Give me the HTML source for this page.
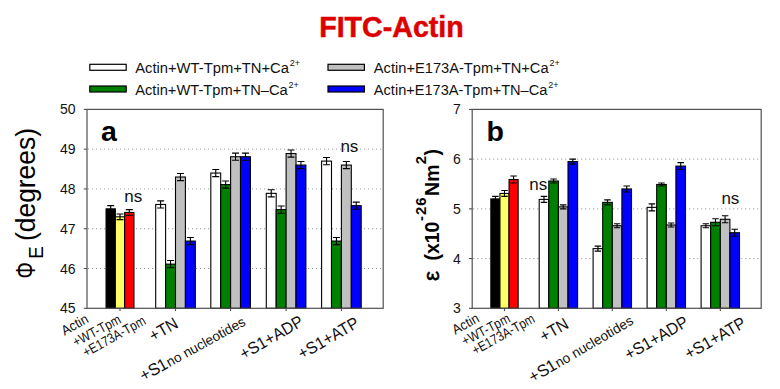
<!DOCTYPE html>
<html><head><meta charset="utf-8"><title>FITC-Actin</title>
<style>
html,body{margin:0;padding:0;background:#fff;}
body{width:780px;height:389px;overflow:hidden;font-family:"Liberation Sans", sans-serif;}
svg text{font-family:"Liberation Sans", sans-serif;}
</style></head><body>
<svg width="780" height="389" viewBox="0 0 780 389" style="display:block">
<rect width="780" height="389" fill="#ffffff"/>
<line x1="88" x2="383.2" y1="268.52" y2="268.52" stroke="#9a9a9a" stroke-width="1" stroke-dasharray="1.1 2.9"/>
<line x1="88" x2="383.2" y1="228.74" y2="228.74" stroke="#9a9a9a" stroke-width="1" stroke-dasharray="1.1 2.9"/>
<line x1="88" x2="383.2" y1="188.96" y2="188.96" stroke="#9a9a9a" stroke-width="1" stroke-dasharray="1.1 2.9"/>
<line x1="88" x2="383.2" y1="149.18" y2="149.18" stroke="#9a9a9a" stroke-width="1" stroke-dasharray="1.1 2.9"/>
<rect x="106.05" y="208.85" width="9.30" height="99.45" fill="#000000" stroke="#000" stroke-width="1.1"/>
<rect x="115.35" y="216.81" width="9.30" height="91.49" fill="#ffff66" stroke="#000" stroke-width="1.1"/>
<rect x="124.65" y="212.43" width="9.30" height="95.87" fill="#ff0000" stroke="#000" stroke-width="1.1"/>
<path d="M110.70 205.67V212.03M107.20 205.67h7.0M107.20 212.03h7.0" stroke="#000" stroke-width="1.1" fill="none"/>
<path d="M120.00 214.02V219.59M116.50 214.02h7.0M116.50 219.59h7.0" stroke="#000" stroke-width="1.1" fill="none"/>
<path d="M129.30 209.65V215.21M125.80 209.65h7.0M125.80 215.21h7.0" stroke="#000" stroke-width="1.1" fill="none"/>
<rect x="155.70" y="204.47" width="9.90" height="103.83" fill="#ffffff" stroke="#000" stroke-width="1.1"/>
<rect x="165.60" y="264.14" width="9.90" height="44.16" fill="#008000" stroke="#000" stroke-width="1.1"/>
<rect x="175.50" y="177.03" width="9.90" height="131.27" fill="#c0c0c0" stroke="#000" stroke-width="1.1"/>
<rect x="185.40" y="241.07" width="9.90" height="67.23" fill="#0000ff" stroke="#000" stroke-width="1.1"/>
<path d="M160.65 200.89V208.05M157.15 200.89h7.0M157.15 208.05h7.0" stroke="#000" stroke-width="1.1" fill="none"/>
<path d="M170.55 260.56V267.72M167.05 260.56h7.0M167.05 267.72h7.0" stroke="#000" stroke-width="1.1" fill="none"/>
<path d="M180.45 173.45V180.61M176.95 173.45h7.0M176.95 180.61h7.0" stroke="#000" stroke-width="1.1" fill="none"/>
<path d="M190.35 237.49V244.65M186.85 237.49h7.0M186.85 244.65h7.0" stroke="#000" stroke-width="1.1" fill="none"/>
<rect x="210.80" y="173.05" width="9.90" height="135.25" fill="#ffffff" stroke="#000" stroke-width="1.1"/>
<rect x="220.70" y="184.58" width="9.90" height="123.72" fill="#008000" stroke="#000" stroke-width="1.1"/>
<rect x="230.60" y="156.74" width="9.90" height="151.56" fill="#c0c0c0" stroke="#000" stroke-width="1.1"/>
<rect x="240.50" y="156.74" width="9.90" height="151.56" fill="#0000ff" stroke="#000" stroke-width="1.1"/>
<path d="M215.75 169.47V176.63M212.25 169.47h7.0M212.25 176.63h7.0" stroke="#000" stroke-width="1.1" fill="none"/>
<path d="M225.65 181.00V188.16M222.15 181.00h7.0M222.15 188.16h7.0" stroke="#000" stroke-width="1.1" fill="none"/>
<path d="M235.55 153.16V160.32M232.05 153.16h7.0M232.05 160.32h7.0" stroke="#000" stroke-width="1.1" fill="none"/>
<path d="M245.45 153.16V160.32M241.95 153.16h7.0M241.95 160.32h7.0" stroke="#000" stroke-width="1.1" fill="none"/>
<rect x="266.30" y="193.34" width="9.90" height="114.96" fill="#ffffff" stroke="#000" stroke-width="1.1"/>
<rect x="276.20" y="209.65" width="9.90" height="98.65" fill="#008000" stroke="#000" stroke-width="1.1"/>
<rect x="286.10" y="153.56" width="9.90" height="154.74" fill="#c0c0c0" stroke="#000" stroke-width="1.1"/>
<rect x="296.00" y="165.09" width="9.90" height="143.21" fill="#0000ff" stroke="#000" stroke-width="1.1"/>
<path d="M271.25 189.76V196.92M267.75 189.76h7.0M267.75 196.92h7.0" stroke="#000" stroke-width="1.1" fill="none"/>
<path d="M281.15 206.07V213.23M277.65 206.07h7.0M277.65 213.23h7.0" stroke="#000" stroke-width="1.1" fill="none"/>
<path d="M291.05 149.98V157.14M287.55 149.98h7.0M287.55 157.14h7.0" stroke="#000" stroke-width="1.1" fill="none"/>
<path d="M300.95 161.51V168.67M297.45 161.51h7.0M297.45 168.67h7.0" stroke="#000" stroke-width="1.1" fill="none"/>
<rect x="321.60" y="161.11" width="9.90" height="147.19" fill="#ffffff" stroke="#000" stroke-width="1.1"/>
<rect x="331.50" y="241.07" width="9.90" height="67.23" fill="#008000" stroke="#000" stroke-width="1.1"/>
<rect x="341.40" y="165.09" width="9.90" height="143.21" fill="#c0c0c0" stroke="#000" stroke-width="1.1"/>
<rect x="351.30" y="205.67" width="9.90" height="102.63" fill="#0000ff" stroke="#000" stroke-width="1.1"/>
<path d="M326.55 157.53V164.69M323.05 157.53h7.0M323.05 164.69h7.0" stroke="#000" stroke-width="1.1" fill="none"/>
<path d="M336.45 237.49V244.65M332.95 237.49h7.0M332.95 244.65h7.0" stroke="#000" stroke-width="1.1" fill="none"/>
<path d="M346.35 161.51V168.67M342.85 161.51h7.0M342.85 168.67h7.0" stroke="#000" stroke-width="1.1" fill="none"/>
<path d="M356.25 202.09V209.25M352.75 202.09h7.0M352.75 209.25h7.0" stroke="#000" stroke-width="1.1" fill="none"/>
<rect x="87" y="109.4" width="296.2" height="198.9" fill="none" stroke="#505050" stroke-width="1.2"/>
<line x1="83.8" x2="87" y1="308.30" y2="308.30" stroke="#505050" stroke-width="1.1"/>
<text x="75.5" y="313.30" font-size="14" text-anchor="end" fill="#111">45</text>
<line x1="83.8" x2="87" y1="268.52" y2="268.52" stroke="#505050" stroke-width="1.1"/>
<text x="75.5" y="273.52" font-size="14" text-anchor="end" fill="#111">46</text>
<line x1="83.8" x2="87" y1="228.74" y2="228.74" stroke="#505050" stroke-width="1.1"/>
<text x="75.5" y="233.74" font-size="14" text-anchor="end" fill="#111">47</text>
<line x1="83.8" x2="87" y1="188.96" y2="188.96" stroke="#505050" stroke-width="1.1"/>
<text x="75.5" y="193.96" font-size="14" text-anchor="end" fill="#111">48</text>
<line x1="83.8" x2="87" y1="149.18" y2="149.18" stroke="#505050" stroke-width="1.1"/>
<text x="75.5" y="154.18" font-size="14" text-anchor="end" fill="#111">49</text>
<line x1="83.8" x2="87" y1="109.40" y2="109.40" stroke="#505050" stroke-width="1.1"/>
<text x="75.5" y="114.40" font-size="14" text-anchor="end" fill="#111">50</text>
<line x1="120.00" x2="120.00" y1="308.3" y2="311.1" stroke="#505050" stroke-width="1.1"/>
<line x1="175.50" x2="175.50" y1="308.3" y2="311.1" stroke="#505050" stroke-width="1.1"/>
<line x1="230.60" x2="230.60" y1="308.3" y2="311.1" stroke="#505050" stroke-width="1.1"/>
<line x1="286.10" x2="286.10" y1="308.3" y2="311.1" stroke="#505050" stroke-width="1.1"/>
<line x1="341.40" x2="341.40" y1="308.3" y2="311.1" stroke="#505050" stroke-width="1.1"/>
<line x1="473.2" x2="761.2" y1="258.57" y2="258.57" stroke="#9a9a9a" stroke-width="1" stroke-dasharray="1.1 2.9"/>
<line x1="473.2" x2="761.2" y1="208.85" y2="208.85" stroke="#9a9a9a" stroke-width="1" stroke-dasharray="1.1 2.9"/>
<line x1="473.2" x2="761.2" y1="159.12" y2="159.12" stroke="#9a9a9a" stroke-width="1" stroke-dasharray="1.1 2.9"/>
<rect x="490.85" y="198.91" width="9.10" height="109.40" fill="#000000" stroke="#000" stroke-width="1.1"/>
<rect x="499.95" y="193.44" width="9.10" height="114.86" fill="#ffff66" stroke="#000" stroke-width="1.1"/>
<rect x="509.05" y="179.51" width="9.10" height="128.79" fill="#ff0000" stroke="#000" stroke-width="1.1"/>
<path d="M495.40 196.42V201.39M492.15 196.42h6.5M492.15 201.39h6.5" stroke="#000" stroke-width="1.1" fill="none"/>
<path d="M504.50 190.45V196.42M501.25 190.45h6.5M501.25 196.42h6.5" stroke="#000" stroke-width="1.1" fill="none"/>
<path d="M513.60 176.03V182.99M510.35 176.03h6.5M510.35 182.99h6.5" stroke="#000" stroke-width="1.1" fill="none"/>
<rect x="539.20" y="199.40" width="9.60" height="108.90" fill="#ffffff" stroke="#000" stroke-width="1.1"/>
<rect x="548.80" y="181.00" width="9.60" height="127.30" fill="#008000" stroke="#000" stroke-width="1.1"/>
<rect x="558.40" y="206.86" width="9.60" height="101.44" fill="#c0c0c0" stroke="#000" stroke-width="1.1"/>
<rect x="568.00" y="161.61" width="9.60" height="146.69" fill="#0000ff" stroke="#000" stroke-width="1.1"/>
<path d="M544.00 196.42V202.39M540.75 196.42h6.5M540.75 202.39h6.5" stroke="#000" stroke-width="1.1" fill="none"/>
<path d="M553.60 179.02V182.99M550.35 179.02h6.5M550.35 182.99h6.5" stroke="#000" stroke-width="1.1" fill="none"/>
<path d="M563.20 204.87V208.85M559.95 204.87h6.5M559.95 208.85h6.5" stroke="#000" stroke-width="1.1" fill="none"/>
<path d="M572.80 159.12V164.10M569.55 159.12h6.5M569.55 164.10h6.5" stroke="#000" stroke-width="1.1" fill="none"/>
<rect x="593.10" y="248.63" width="9.60" height="59.67" fill="#ffffff" stroke="#000" stroke-width="1.1"/>
<rect x="602.70" y="202.39" width="9.60" height="105.91" fill="#008000" stroke="#000" stroke-width="1.1"/>
<rect x="612.30" y="225.76" width="9.60" height="82.54" fill="#c0c0c0" stroke="#000" stroke-width="1.1"/>
<rect x="621.90" y="188.96" width="9.60" height="119.34" fill="#0000ff" stroke="#000" stroke-width="1.1"/>
<path d="M597.90 246.14V251.12M594.65 246.14h6.5M594.65 251.12h6.5" stroke="#000" stroke-width="1.1" fill="none"/>
<path d="M607.50 199.90V204.87M604.25 199.90h6.5M604.25 204.87h6.5" stroke="#000" stroke-width="1.1" fill="none"/>
<path d="M617.10 223.77V227.75M613.85 223.77h6.5M613.85 227.75h6.5" stroke="#000" stroke-width="1.1" fill="none"/>
<path d="M626.70 185.98V191.94M623.45 185.98h6.5M623.45 191.94h6.5" stroke="#000" stroke-width="1.1" fill="none"/>
<rect x="647.10" y="207.36" width="9.60" height="100.94" fill="#ffffff" stroke="#000" stroke-width="1.1"/>
<rect x="656.70" y="184.48" width="9.60" height="123.82" fill="#008000" stroke="#000" stroke-width="1.1"/>
<rect x="666.30" y="225.01" width="9.60" height="83.29" fill="#c0c0c0" stroke="#000" stroke-width="1.1"/>
<rect x="675.90" y="166.09" width="9.60" height="142.21" fill="#0000ff" stroke="#000" stroke-width="1.1"/>
<path d="M651.90 203.88V210.84M648.65 203.88h6.5M648.65 210.84h6.5" stroke="#000" stroke-width="1.1" fill="none"/>
<path d="M661.50 182.99V185.98M658.25 182.99h6.5M658.25 185.98h6.5" stroke="#000" stroke-width="1.1" fill="none"/>
<path d="M671.10 223.02V227.00M667.85 223.02h6.5M667.85 227.00h6.5" stroke="#000" stroke-width="1.1" fill="none"/>
<path d="M680.70 162.61V169.57M677.45 162.61h6.5M677.45 169.57h6.5" stroke="#000" stroke-width="1.1" fill="none"/>
<rect x="701.10" y="225.76" width="9.60" height="82.54" fill="#ffffff" stroke="#000" stroke-width="1.1"/>
<rect x="710.70" y="222.28" width="9.60" height="86.02" fill="#008000" stroke="#000" stroke-width="1.1"/>
<rect x="720.30" y="219.29" width="9.60" height="89.01" fill="#c0c0c0" stroke="#000" stroke-width="1.1"/>
<rect x="729.90" y="232.72" width="9.60" height="75.58" fill="#0000ff" stroke="#000" stroke-width="1.1"/>
<path d="M705.90 223.77V227.75M702.65 223.77h6.5M702.65 227.75h6.5" stroke="#000" stroke-width="1.1" fill="none"/>
<path d="M715.50 218.79V225.76M712.25 218.79h6.5M712.25 225.76h6.5" stroke="#000" stroke-width="1.1" fill="none"/>
<path d="M725.10 215.81V222.77M721.85 215.81h6.5M721.85 222.77h6.5" stroke="#000" stroke-width="1.1" fill="none"/>
<path d="M734.70 229.24V236.20M731.45 229.24h6.5M731.45 236.20h6.5" stroke="#000" stroke-width="1.1" fill="none"/>
<rect x="472.2" y="109.4" width="289.00000000000006" height="198.9" fill="none" stroke="#505050" stroke-width="1.2"/>
<line x1="469.0" x2="472.2" y1="308.30" y2="308.30" stroke="#505050" stroke-width="1.1"/>
<text x="460.7" y="313.30" font-size="14" text-anchor="end" fill="#111">3</text>
<line x1="469.0" x2="472.2" y1="258.57" y2="258.57" stroke="#505050" stroke-width="1.1"/>
<text x="460.7" y="263.57" font-size="14" text-anchor="end" fill="#111">4</text>
<line x1="469.0" x2="472.2" y1="208.85" y2="208.85" stroke="#505050" stroke-width="1.1"/>
<text x="460.7" y="213.85" font-size="14" text-anchor="end" fill="#111">5</text>
<line x1="469.0" x2="472.2" y1="159.12" y2="159.12" stroke="#505050" stroke-width="1.1"/>
<text x="460.7" y="164.12" font-size="14" text-anchor="end" fill="#111">6</text>
<line x1="469.0" x2="472.2" y1="109.40" y2="109.40" stroke="#505050" stroke-width="1.1"/>
<text x="460.7" y="114.40" font-size="14" text-anchor="end" fill="#111">7</text>
<line x1="504.50" x2="504.50" y1="308.3" y2="311.1" stroke="#505050" stroke-width="1.1"/>
<line x1="558.40" x2="558.40" y1="308.3" y2="311.1" stroke="#505050" stroke-width="1.1"/>
<line x1="612.30" x2="612.30" y1="308.3" y2="311.1" stroke="#505050" stroke-width="1.1"/>
<line x1="666.30" x2="666.30" y1="308.3" y2="311.1" stroke="#505050" stroke-width="1.1"/>
<line x1="720.30" x2="720.30" y1="308.3" y2="311.1" stroke="#505050" stroke-width="1.1"/>
<text x="101" y="141" font-size="28.5" font-weight="bold" fill="#000">a</text>
<text x="486.5" y="141" font-size="28.5" font-weight="bold" fill="#000">b</text>
<text x="124.2" y="202.4" font-size="17" fill="#111">ns</text>
<text x="340.4" y="152.2" font-size="17" fill="#111">ns</text>
<text x="529.2" y="189.7" font-size="17" fill="#111">ns</text>
<text x="721.4" y="204.3" font-size="17" fill="#111">ns</text>
<text x="391.5" y="36.9" font-size="29" font-weight="bold" fill="#dd0000" text-anchor="middle" textLength="144.6" lengthAdjust="spacingAndGlyphs" stroke="#dd0000" stroke-width="0.5">FITC-Actin</text>
<rect x="89.8" y="64.30000000000001" width="36.4" height="6" fill="#ffffff" stroke="#000" stroke-width="1.2"/>
<text x="135.2" y="72.9" font-size="14.7" fill="#111"><tspan textLength="153.8" lengthAdjust="spacingAndGlyphs">Actin+WT-Tpm+TN+Ca</tspan><tspan font-size="9" dy="-6.8" dx="0.8">2+</tspan></text>
<rect x="89.8" y="86.0" width="36.4" height="6" fill="#008000" stroke="#000" stroke-width="1.2"/>
<text x="135.2" y="94.6" font-size="14.7" fill="#111"><tspan textLength="152.6" lengthAdjust="spacingAndGlyphs">Actin+WT-Tpm+TN–Ca</tspan><tspan font-size="9" dy="-6.8" dx="0.8">2+</tspan></text>
<rect x="328.0" y="64.30000000000001" width="36.4" height="6" fill="#c0c0c0" stroke="#000" stroke-width="1.2"/>
<text x="373.8" y="72.9" font-size="14.7" fill="#111"><tspan textLength="174.8" lengthAdjust="spacingAndGlyphs">Actin+E173A-Tpm+TN+Ca</tspan><tspan font-size="9" dy="-6.8" dx="0.8">2+</tspan></text>
<rect x="328.0" y="86.0" width="36.4" height="6" fill="#0000ff" stroke="#000" stroke-width="1.2"/>
<text x="373.8" y="94.6" font-size="14.7" fill="#111"><tspan textLength="173.6" lengthAdjust="spacingAndGlyphs">Actin+E173A-Tpm+TN–Ca</tspan><tspan font-size="9" dy="-6.8" dx="0.8">2+</tspan></text>
<g transform="translate(35.0,279) rotate(-90) scale(1,1.07)" fill="#000"><text transform="translate(0.6,0) scale(0.78,1)" x="0" y="0" font-size="26.2">Φ</text><text x="20.3" y="7.2" font-size="18.8">E</text><text x="38" y="0" font-size="26.4">(degrees)</text></g>
<g transform="translate(439.2,281.2) rotate(-90)" font-weight="bold" fill="#000"><text x="0.3" y="-0.2" font-size="22.4" font-weight="normal" stroke="#000" stroke-width="0.55">ε</text><text x="20.6" y="0" font-size="19.5">(x10</text><text x="60.2" y="-12.8" font-size="14.8" letter-spacing="1.1">-26</text><text x="85.2" y="0" font-size="19.5" letter-spacing="0.3">Nm</text><text x="117" y="-12.8" font-size="14.8">2</text><text x="125.6" y="0" font-size="19.5">)</text></g>
<text transform="translate(89.5,321.8) rotate(-29) scale(0.93,1)" text-anchor="end" fill="#111"><tspan font-size="13.8" dx="0">Actin</tspan></text>
<text transform="translate(122,322.4) rotate(-28) scale(0.86,1)" text-anchor="end" fill="#111"><tspan font-size="13.8" dx="0">+WT-Tpm</tspan></text>
<text transform="translate(146.8,323.6) rotate(-29) scale(0.85,1)" text-anchor="end" fill="#111"><tspan font-size="13.8" dx="0">+E173A-Tpm</tspan></text>
<text transform="translate(179.4,326.8) rotate(-30) scale(0.94,1)" text-anchor="end" fill="#111"><tspan font-size="16.8" dx="0">+TN</tspan></text>
<text transform="translate(246.6,324.6) rotate(-29) scale(0.99,1)" text-anchor="end" fill="#111"><tspan font-size="16.8" dx="0">+S</tspan><tspan font-size="16.8" dx="-0.8">1</tspan><tspan font-size="13.8" dx="0.6">no nucleotides</tspan></text>
<text transform="translate(304.5,324.8) rotate(-30) scale(0.94,1)" text-anchor="end" fill="#111"><tspan font-size="16.8" dx="0">+S1+ADP</tspan></text>
<text transform="translate(360.3,326.2) rotate(-30) scale(0.94,1)" text-anchor="end" fill="#111"><tspan font-size="16.8" dx="0">+S1+ATP</tspan></text>
<text transform="translate(480.3,321.0) rotate(-29) scale(0.93,1)" text-anchor="end" fill="#111"><tspan font-size="13.8" dx="0">Actin</tspan></text>
<text transform="translate(511.1,321.4) rotate(-28) scale(0.86,1)" text-anchor="end" fill="#111"><tspan font-size="13.8" dx="0">+WT-Tpm</tspan></text>
<text transform="translate(535.9,321.6) rotate(-29) scale(0.85,1)" text-anchor="end" fill="#111"><tspan font-size="13.8" dx="0">+E173A-Tpm</tspan></text>
<text transform="translate(569.9,327.3) rotate(-30) scale(0.94,1)" text-anchor="end" fill="#111"><tspan font-size="16.8" dx="0">+TN</tspan></text>
<text transform="translate(634.4,323.4) rotate(-30.5) scale(0.99,1)" text-anchor="end" fill="#111"><tspan font-size="16.8" dx="0">+S</tspan><tspan font-size="16.8" dx="-0.8">1</tspan><tspan font-size="13.8" dx="0.6">no nucleotides</tspan></text>
<text transform="translate(689.5,325.3) rotate(-30) scale(0.94,1)" text-anchor="end" fill="#111"><tspan font-size="16.8" dx="0">+S1+ADP</tspan></text>
<text transform="translate(747.1,326.2) rotate(-30) scale(0.94,1)" text-anchor="end" fill="#111"><tspan font-size="16.8" dx="0">+S1+ATP</tspan></text>
</svg>
</body></html>
